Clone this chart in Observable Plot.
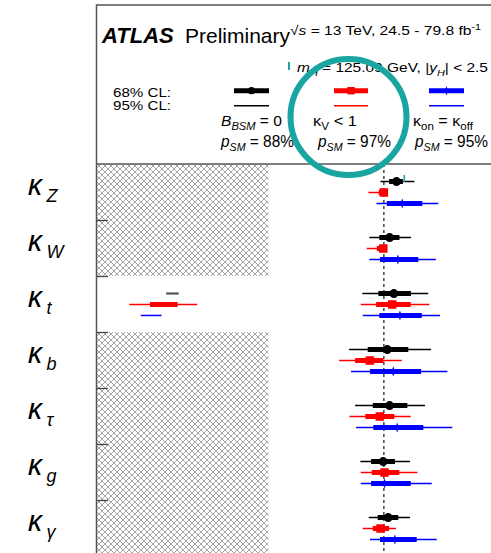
<!DOCTYPE html>
<html><head><meta charset="utf-8">
<script src="https://cdn.jsdelivr.net/npm/d3@7"></script>
<script src="https://cdn.jsdelivr.net/npm/@observablehq/plot@0.6"></script>
<style>
html,body{margin:0;padding:0;background:#fff;overflow:hidden}
#wrap{position:relative;width:491px;height:553px;overflow:hidden;background:#fff;font-family:"Liberation Sans",Arial,sans-serif}
#plot{position:absolute;left:0;top:163px}
#overlay{position:absolute;left:0;top:0;pointer-events:none}
</style></head><body>
<div id="wrap"><div id="plot"></div><svg id="overlay" width="491" height="553"></svg></div>
<script>
// ---- data (coupling modifiers) ----
const params = ["Z","W","t","b","τ","g","γ"];
const seriesColors = ["#000000","#ff0000","#0000ff"];
const seriesPSM = ["88%","97%","95%"];

// B_BSM = 0
const bsmCentral = [1.11, 1.05, 1.087, 1.03, 1.05, 0.994, 1.038];
const bsmLo68    = [1.05, 0.965, 0.957, 0.864, 0.908, 0.893, 0.951];
const bsmHi68    = [1.17, 1.14, 1.24, 1.217, 1.209, 1.101, 1.13];
const bsmLo95    = [0.975, 0.878, 0.817, 0.702, 0.754, 0.80, 0.873];
const bsmHi95    = [1.27, 1.24, 1.39, 1.415, 1.363, 1.232, 1.232];
// kappa_V < 1
const kvCentral = [1.0, 0.995, 1.073, 0.878, 0.965, 1.006, 0.971];
const kvLo68    = [0.96, 0.943, 0.937, 0.754, 0.843, 0.899, 0.908];
const kvHi68    = [1.0, 1.0, 1.238, 1.0, 1.096, 1.139, 1.05];
const kvLo95    = [0.87, 0.856, 0.803, 0.615, 0.705, 0.803, 0.821];
const kvHi95    = [1.0, 1.0, 1.40, 1.16, 1.238, 1.296, 1.11];
// kappa_on = kappa_off
const konCentral = [1.16, 1.122, 1.14, 1.082, 1.116, 1.006, 1.096];
const konLo68    = [1.03, 0.971, 0.965, 0.884, 0.913, 0.893, 0.971];
const konHi68    = [1.339, 1.304, 1.334, 1.328, 1.348, 1.238, 1.29];
const konLo95    = [0.94, 0.878, 0.821, 0.719, 0.763, 0.803, 0.884];
const konHi95    = [1.478, 1.456, 1.493, 1.557, 1.60, 1.421, 1.464];
// negative kappa_t solution (per series)
const ktNegLo95 = [-0.89, -1.21, -1.11];
const ktNegHi95 = [-0.78, -0.62, -0.93];
const ktNegLo68 = [null, -1.03, null];
const ktNegHi68 = [null, -0.79, null];
// rows where kappa < 0 is excluded (hatched)
const hatchedParams = ["Z","W","b","τ","g","γ"];

const xMin = -1.5, xMax = 1.9365;
const series = [
  {central: bsmCentral, lo68: bsmLo68, hi68: bsmHi68, lo95: bsmLo95, hi95: bsmHi95},
  {central: kvCentral, lo68: kvLo68, hi68: kvHi68, lo95: kvLo95, hi95: kvHi95},
  {central: konCentral, lo68: konLo68, hi68: konHi68, lo95: konLo95, hi95: konHi95}
];
const rowOffset = [-0.196, 0, 0.196];
const rows = [];
series.forEach((s, si) => params.forEach((p, i) => rows.push({
  si, p, y: i + 0.5 + rowOffset[si], c: s.central[i],
  lo68: s.lo68[i], hi68: s.hi68[i], lo95: s.lo95[i], hi95: s.hi95[i], color: seriesColors[si]
})));
const tIdx = params.indexOf("t");
const neg = seriesColors.map((color, si) => ({
  si, color, y: tIdx + 0.5 + rowOffset[si],
  lo95: ktNegLo95[si], hi95: ktNegHi95[si], lo68: ktNegLo68[si], hi68: ktNegHi68[si]
}));
const hatchRows = hatchedParams.map(p => ({i: params.indexOf(p)}));
const boundaries = d3.range(1, params.length + 1);
const labels = params.map((p, i) => ({p, y: i + 0.5}));

const thinDiamond = {draw(ctx, size) {
  const r = Math.sqrt(size / Math.PI);
  ctx.moveTo(0, -r); ctx.lineTo(r * 0.38, 0); ctx.lineTo(0, r); ctx.lineTo(-r * 0.38, 0); ctx.closePath();
}};

const bySeries = si => rows.filter(d => d.si === si);
const svg = Plot.plot({
  width: 491, height: 392,
  marginLeft: 96, marginRight: 0, marginTop: 0, marginBottom: 0,
  x: {domain: [xMin, xMax], axis: null},
  y: {domain: [0, 7], range: [1, 393], axis: null},
  style: {background: "transparent", overflow: "visible"},
  marks: [
    Plot.rect(hatchRows, {x1: xMin, x2: 0, y1: d => d.i, y2: d => d.i + 1, fill: "url(#xhatch)"}),
    Plot.ruleX([1], {y1: 0, y2: 7, stroke: "#444", strokeWidth: 1.5, strokeDasharray: "3,3"}),
    Plot.ruleY(boundaries, {y: d => d, x1: xMin, x2: xMin + 12 / 115, stroke: "#444", strokeWidth: 1.3}),
    Plot.ruleX([xMin], {y1: 0, y2: 7, stroke: "#555", strokeWidth: 1.5}),
    // 95% CL
    Plot.ruleY(rows, {y: "y", x1: "lo95", x2: "hi95", stroke: "color", strokeWidth: 1.5}),
    Plot.ruleY(neg, {y: "y", x1: "lo95", x2: "hi95", stroke: d => d.si === 0 ? "#555" : d.color, strokeWidth: d => d.si === 0 ? 2.2 : 1.5}),
    // 68% CL
    Plot.ruleY(rows, {y: "y", x1: "lo68", x2: "hi68", stroke: "color", strokeWidth: 5}),
    Plot.ruleY(neg.filter(d => d.lo68 != null), {y: "y", x1: "lo68", x2: "hi68", stroke: "color", strokeWidth: 5}),
    // central values
    Plot.dot(bySeries(0), {x: "c", y: "y", r: 4.4, fill: seriesColors[0], stroke: null}),
    Plot.dot(bySeries(1), {x: "c", y: "y", r: 4.8, symbol: "square", fill: seriesColors[1], stroke: null}),
    Plot.dot(bySeries(2), {x: "c", y: "y", r: 5, symbol: thinDiamond, fill: seriesColors[2], stroke: null}),
    // labels
    Plot.text(labels, {x: xMin, y: "y", text: () => "κ", dx: -69, dy: 2, textAnchor: "start", lineAnchor: "bottom",
      fontSize: 30, fontStyle: "italic", fontFamily: "Noto Sans", fill: "#000"}),
    Plot.text(labels, {x: xMin, y: "y", text: "p", dx: -50, dy: 9, textAnchor: "start", lineAnchor: "bottom",
      fontSize: 18, fontStyle: "italic", fontFamily: "Liberation Sans", fill: "#000"})
  ]
});
const defs = d3.select(svg).insert("defs", ":first-child");
const pat = defs.append("pattern").attr("id", "xhatch").attr("patternUnits", "userSpaceOnUse")
  .attr("width", 6).attr("height", 6);
pat.append("rect").attr("width", 6).attr("height", 6).attr("fill", "#fff");
pat.append("path").attr("d", "M0,0L6,6M6,0L0,6")
  .attr("stroke", "#a5a5a5").attr("stroke-width", 1).attr("fill", "none");
document.getElementById("plot").appendChild(svg);

// ---- header (frame, title, legend) ----
const legendX = [[234, 269], [334, 368], [429, 464]];
const legendMarker = [
  (x, c) => `<circle cx="${x}" cy="90.7" r="3.6" fill="${c}"/>`,
  (x, c) => `<rect x="${x - 3.7}" y="87" width="7.4" height="7.4" fill="${c}"/>`,
  (x, c) => `<path d="M${x},86 L${x + 1.6},90.7 L${x},95.4 L${x - 1.6},90.7Z" fill="${c}"/>`
];
const seriesLabel = [
  `<tspan font-style="italic">B</tspan><tspan font-size="10" dy="4" font-style="italic">BSM</tspan><tspan dy="-4"> = 0</tspan>`,
  `κ<tspan font-size="10" dy="4">V</tspan><tspan dy="-4"> &lt; 1</tspan>`,
  `κ<tspan font-size="10" dy="4">on</tspan><tspan dy="-4"> = κ</tspan><tspan font-size="10" dy="4">off</tspan>`
];
const labelX = [221, 313, 413], labelW = [61, 44, 60], pX = [221, 318, 415];
let h = `<path d="M96.5,164 V5 H495 M96.5,164 H495" fill="none" stroke="#555" stroke-width="1.5"/>
<text x="102" y="43" font-size="22" font-weight="bold" font-style="italic">ATLAS</text>
<text x="185" y="43" font-size="21">Preliminary</text>
<text x="290" y="35" font-size="13" textLength="191" lengthAdjust="spacingAndGlyphs">√<tspan font-style="italic">s</tspan> = 13 TeV, 24.5 - 79.8 fb<tspan font-size="9" dy="-5">-1</tspan></text>
<text x="297" y="72" font-size="13.5" textLength="191" lengthAdjust="spacingAndGlyphs"><tspan font-style="italic">m</tspan><tspan font-size="9.5" dy="4" font-style="italic">H</tspan><tspan dy="-4"> = 125.09 GeV, |</tspan><tspan font-style="italic">y</tspan><tspan font-size="9.5" dy="4" font-style="italic">H</tspan><tspan dy="-4">| &lt; 2.5</tspan></text>
<text x="113" y="96.5" font-size="13.5" textLength="58" lengthAdjust="spacingAndGlyphs">68% CL:</text>
<text x="113" y="110" font-size="13.5" textLength="58" lengthAdjust="spacingAndGlyphs">95% CL:</text>`;
seriesColors.forEach((c, i) => {
  const [a, b] = legendX[i], m = (a + b) / 2;
  h += `<line x1="${a}" x2="${b}" y1="90.7" y2="90.7" stroke="${c}" stroke-width="5"/>`;
  h += legendMarker[i](m, c);
  h += `<line x1="${a}" x2="${b}" y1="105.7" y2="105.7" stroke="${c}" stroke-width="1.5"/>`;
  h += `<text x="${labelX[i]}" y="126" font-size="14" textLength="${labelW[i]}" lengthAdjust="spacingAndGlyphs">${seriesLabel[i]}</text>`;
  h += `<text x="${pX[i]}" y="146.5" font-size="16" textLength="73" lengthAdjust="spacingAndGlyphs"><tspan font-style="italic">p</tspan><tspan font-size="11" dy="4.5" font-style="italic">SM</tspan><tspan dy="-4.5"> = ${seriesPSM[i]}</tspan></text>`;
});
// teal highlight annotation
h += `<circle cx="348.5" cy="117" r="58" fill="none" stroke="#19a5a1" stroke-width="6"/>
<rect x="288" y="62" width="2" height="8" fill="#19a5a1"/>
<rect x="403.5" y="175" width="1.6" height="7" fill="#19a5a1"/>`;
document.getElementById("overlay").innerHTML = h;
</script>
</body></html>
